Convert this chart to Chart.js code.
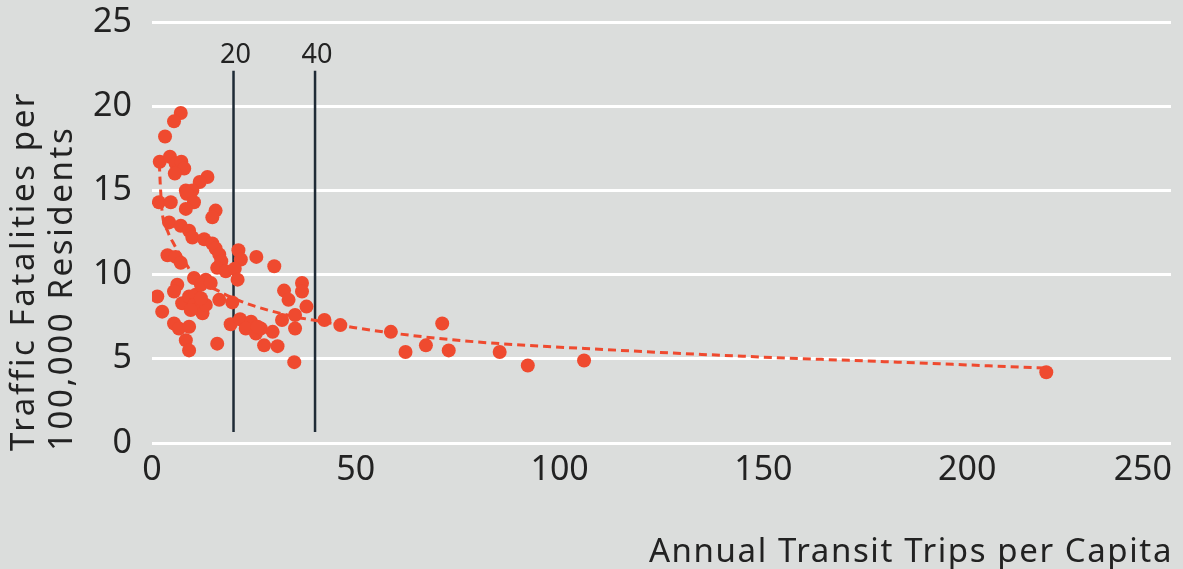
<!DOCTYPE html>
<html>
<head>
<meta charset="utf-8">
<script src="https://cdn.jsdelivr.net/npm/chart.js@4"></script>
<style>
  html, body { margin: 0; padding: 0; background: #dbdddc; }
  #wrap { width: 1183px; height: 569px; position: relative; }
</style>
</head>
<body>
<div id="wrap"><canvas id="myChart"></canvas></div>
<script>
// valores
const transitTrips = [
  7.05, 5.4, 3.2, 1.9, 4.4, 5.8, 7.2, 7.9, 5.6, 13.6,
  11.7, 8.3, 9.9, 1.7, 4.6, 8.5, 10.3, 8.3, 15.6, 14.8,
  4.2, 7.05, 9.1, 9.9, 12.8, 14.8, 15.6, 16.5, 17.0, 16.0,
  18.1, 21.2, 21.8, 25.6, 3.8, 5.8, 7.05, 20.3, 21.0, 10.3,
  13.2, 6.2, 1.3, 2.5, 5.4, 7.4, 9.1, 10.7, 10.3, 11.5,
  12.4, 13.2, 12.0, 14.4, 16.5, 19.7, 5.4, 6.6, 9.1, 8.3,
  9.1, 16.0, 19.3, 21.6, 24.3, 23.0, 25.5, 26.7, 25.9, 27.5,
  30.0, 36.8, 36.8, 32.4, 33.5, 37.9, 35.1, 31.9, 35.1, 29.6,
  30.8, 34.9, 42.3, 46.2, 58.6, 62.2, 67.2, 71.2, 72.8, 85.3,
  92.2, 106, 219.4, 9.5, 12.0
]
const fatalities = [
  19.6, 19.1, 18.2, 16.7, 17.0, 16.6, 16.7, 16.3, 16.0, 15.8,
  15.5, 15.0, 15.0, 14.3, 14.3, 14.8, 14.3, 13.9, 13.8, 13.4,
  13.1, 12.9, 12.6, 12.2, 12.1, 11.85, 11.55, 11.2, 10.8, 10.4,
  10.2, 11.45, 10.9, 11.05, 11.15, 11.05, 10.7, 10.35, 9.7, 9.8,
  9.7, 9.4, 8.7, 7.8, 9.0, 8.3, 8.7, 8.8, 8.2, 8.0,
  7.7, 8.2, 9.4, 9.5, 8.5, 8.35, 7.1, 6.8, 6.9, 6.1,
  5.5, 5.9, 7.05, 7.35, 7.2, 6.8, 6.5, 6.8, 6.9, 5.8,
  10.5, 9.5, 9.0, 9.05, 8.5, 8.1, 7.6, 7.3, 6.8, 6.6,
  5.75, 4.8, 7.3, 7.0, 6.6, 5.4, 5.8, 7.1, 5.5, 5.4,
  4.6, 4.9, 4.2, 7.9, 8.6
]

const trendX = [1.8, 2.0, 2.5, 3.8, 5.4, 8.7, 10.3, 16.5, 22, 25.5, 35, 42, 51, 75, 115, 150, 183, 219]
const trendY = [16.6, 15.5, 13.7, 12.6, 11.8, 10.5, 9.9, 9.0, 8.4, 8.1, 7.5, 7.2, 6.8, 6.1, 5.5, 5.1, 4.8, 4.45]

// linhas de referência
const refLines = [20, 40]
const refRange = [0.65, 22.1]

const xTicks = [0, 50, 100, 150, 200, 250]
const yTicks = [0, 5, 10, 15, 20, 25]

const yTitle = ['Traffic Fatalities per', '100,000 Residents']
const xTitle = 'Annual Transit Trips per Capita'

const red = '#ef4a2f'
const ink = '#222222'
const FONT = '"Noto Sans", sans-serif'

const points = transitTrips.map((v, i) => ({ x: v, y: fatalities[i] }))
const trend = trendX.map((v, i) => ({ x: v, y: trendY[i] }))

const datasets = [
  {
    type: 'scatter',
    data: points,
    backgroundColor: red,
    borderWidth: 0,
    pointRadius: 7,
    order: 0
  },
  {
    type: 'line',
    data: trend,
    borderColor: red,
    borderWidth: 3,
    borderDash: [8, 5],
    pointRadius: 0,
    cubicInterpolationMode: 'monotone',
    fill: false,
    order: 1
  }
]
refLines.forEach(v => {
  datasets.push({
    type: 'line',
    data: refRange.map(y => ({ x: v, y: y })),
    borderColor: '#1f2b36',
    borderWidth: 2.5,
    pointRadius: 0,
    fill: false,
    order: 2
  })
})

// textos desenhados à mão (eixos e rótulos das linhas)
const overlay = {
  id: 'overlay',
  afterDraw(chart) {
    const { ctx, chartArea } = chart
    const x = chart.scales.x
    const y = chart.scales.y
    ctx.save()
    ctx.fillStyle = ink

    // rótulos do eixo x
    ctx.font = '34px ' + FONT
    ctx.textBaseline = 'alphabetic'
    xTicks.forEach((v, i) => {
      const last = i === xTicks.length - 1
      ctx.textAlign = last ? 'right' : 'center'
      ctx.fillText(String(v), x.getPixelForValue(v) + (last ? 1 : 0), chartArea.bottom + 37)
    })

    // título do eixo x
    ctx.font = '33px ' + FONT
    ctx.letterSpacing = '1.6px'
    ctx.textAlign = 'right'
    ctx.fillText(xTitle, chartArea.right + 2, 562)

    // título do eixo y (duas linhas)
    ctx.letterSpacing = '2.6px'
    ctx.textAlign = 'left'
    yTitle.forEach((t, i) => {
      ctx.save()
      ctx.translate(34 + i * 38, 451)
      ctx.rotate(-Math.PI / 2)
      ctx.fillText(t, 0, 0)
      ctx.restore()
    })

    // rótulos 20 e 40
    ctx.letterSpacing = '0px'
    ctx.font = '27px ' + FONT
    ctx.textAlign = 'center'
    refLines.forEach(v => {
      ctx.fillText(String(v), x.getPixelForValue(v) + 2, y.getPixelForValue(refRange[1]) - 8)
    })
    ctx.restore()
  }
}

const ctx = document.getElementById('myChart')

new Chart(ctx, {
  data: { datasets: datasets },
  options: {
    responsive: true,
    maintainAspectRatio: false,
    animation: false,
    layout: { padding: { top: 22, right: 12, left: 0, bottom: 0 } },
    plugins: {
      legend: { display: false },
      tooltip: { enabled: false }
    },
    scales: {
      x: {
        type: 'linear',
        min: 0,
        max: 250,
        ticks: { display: false },
        grid: { display: false },
        border: { display: false },
        afterFit: s => { s.height = 126 }
      },
      y: {
        type: 'linear',
        min: 0,
        max: 25,
        afterBuildTicks: s => { s.ticks = yTicks.map(v => ({ value: v })) },
        ticks: {
          color: ink,
          padding: 20,
          font: { family: FONT, size: 34 }
        },
        grid: { color: '#ffffff', lineWidth: 3, drawTicks: false },
        border: { display: false },
        afterFit: s => {
          s.width = 152
          s.paddingTop = 0
          s.paddingBottom = 0
        }
      }
    }
  },
  plugins: [overlay]
})
</script>
</body>
</html>
